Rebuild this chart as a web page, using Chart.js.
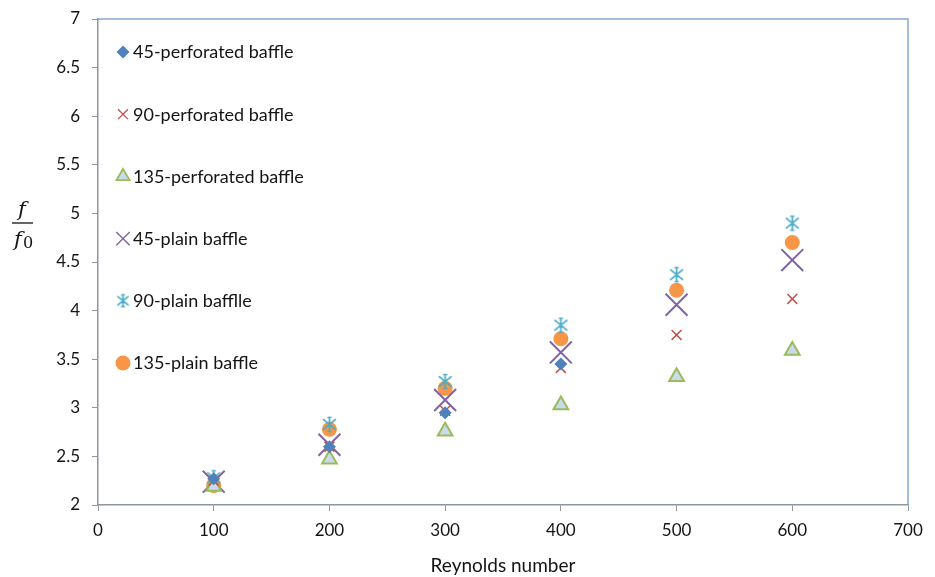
<!DOCTYPE html>
<html>
<head>
<meta charset="utf-8">
<script src="https://cdn.jsdelivr.net/npm/chart.js@4/dist/chart.umd.min.js"></script>
<style>
  html, body { margin: 0; padding: 0; background: #fff; }
  #wrap { width: 935px; height: 577px; }
</style>
</head>
<body>
<div id="wrap"><canvas id="c" width="935" height="577"></canvas></div>
<script>
// Reynolds numbers on the x axis
const reynolds = [100, 200, 300, 400, 500, 600];

// friction factor ratio f/f0 for each baffle type
const perf45  = [2.27, 2.60, 2.95, 3.45, null, null];
const perf90  = [2.25, 2.60, 2.97, 3.41, 3.75, 4.12];
const perf135 = [2.19, 2.47, 2.76, 3.03, 3.32, 3.59];
const plain45 = [2.24, 2.62, 3.08, 3.57, 4.06, 4.52];
const plain90 = [2.28, 2.83, 3.27, 3.85, 4.37, 4.90];
const plain135 = [2.20, 2.78, 3.20, 3.71, 4.21, 4.70];

const seriesNames = [
  '45-perforated baffle',
  '90-perforated baffle',
  '135-perforated baffle',
  '45-plain baffle',
  '90-plain bafflle',
  '135-plain baffle'
];

const xTicks = [0, 100, 200, 300, 400, 500, 600, 700];
const yTicks = [2, 2.5, 3, 3.5, 4, 4.5, 5, 5.5, 6, 6.5, 7];

const FONT = 'Lato, "Open Sans", sans-serif';
const TEXT = '#141414';

// asterisk marker: an X crossed by a vertical stroke
function asterisk(size, color) {
  const c = document.createElement('canvas');
  c.width = size; c.height = size;
  const g = c.getContext('2d');
  const m = size / 2, h = size / 2 - 1.5;
  g.strokeStyle = color; g.lineWidth = 1.7; g.lineCap = 'round';
  g.beginPath();
  g.moveTo(m - h * 0.85, m - h * 0.7); g.lineTo(m + h * 0.85, m + h * 0.7);
  g.moveTo(m + h * 0.85, m - h * 0.7); g.lineTo(m - h * 0.85, m + h * 0.7);
  g.moveTo(m, m - h); g.lineTo(m, m + h);
  g.moveTo(m - h * 0.2, m - h); g.lineTo(m + h * 0.2, m - h);
  g.moveTo(m - h * 0.2, m + h); g.lineTo(m + h * 0.2, m + h);
  g.stroke();
  return c;
}

const starPlot = asterisk(17, '#4BACC6');
const starLegend = asterisk(15, '#4BACC6');

function pts(arr) {
  return reynolds.map((x, i) => ({ x: x, y: arr[i] }));
}

const datasets = [
  { label: seriesNames[0], data: pts(perf45), pointStyle: 'rectRot', pointRadius: 6.5,
    backgroundColor: '#4F81BD', borderColor: '#4F81BD', pointBorderWidth: 0,
    legend: { style: 'rectRot', radius: 6.5, bw: 0 } },
  { label: seriesNames[1], data: pts(perf90), pointStyle: 'crossRot', pointRadius: 7,
    backgroundColor: '#C0504D', borderColor: '#C0504D', pointBorderWidth: 1.5,
    legend: { style: 'crossRot', radius: 7, bw: 1.3 } },
  { label: seriesNames[2], data: pts(perf135), pointStyle: 'triangle', pointRadius: 8.5,
    backgroundColor: '#C9DAF0', borderColor: '#9BBB59', pointBorderWidth: 2,
    legend: { style: 'triangle', radius: 7.5, bw: 1.8 } },
  { label: seriesNames[3], data: pts(plain45), pointStyle: 'crossRot', pointRadius: 15.5,
    backgroundColor: '#8064A2', borderColor: '#8064A2', pointBorderWidth: 2,
    legend: { style: 'crossRot', radius: 9.5, bw: 1.4 } },
  { label: seriesNames[4], data: pts(plain90), pointStyle: starPlot, pointRadius: 8,
    backgroundColor: '#4BACC6', borderColor: '#4BACC6', pointBorderWidth: 0,
    legend: { style: starLegend, radius: 7, bw: 0 } },
  { label: seriesNames[5], data: pts(plain135), pointStyle: 'circle', pointRadius: 7.5,
    backgroundColor: '#F79646', borderColor: '#F79646', pointBorderWidth: 0,
    legend: { style: 'circle', radius: 7.5, bw: 0 } }
];
datasets.forEach(d => { d.showLine = false; d.pointHoverRadius = d.pointRadius; });

// legend drawn inside the plot area, one entry per row
const legendPlugin = {
  id: 'legendPlugin',
  afterDatasetsDraw(chart) {
    const ctx = chart.ctx;
    const x0 = 123, y0 = 52, step = 62.2;
    ctx.save();
    chart.data.datasets.forEach((d, i) => {
      const y = y0 + i * step;
      ctx.fillStyle = d.backgroundColor;
      ctx.strokeStyle = d.borderColor;
      ctx.lineWidth = d.legend.bw;
      Chart.helpers.drawPoint(ctx, {
        pointStyle: d.legend.style, radius: d.legend.radius, rotation: 0,
        borderWidth: d.legend.bw
      }, x0, y);
      ctx.fillStyle = TEXT;
      ctx.font = '18px ' + FONT;
      ctx.textBaseline = 'middle';
      ctx.textAlign = 'left';
      ctx.fillText(d.label, 133, y + 0.5);
    });
    ctx.restore();
  }
};

// blue frame along the top and right edges, plus the f/f0 axis title
const framePlugin = {
  id: 'framePlugin',
  afterDraw(chart) {
    const a = chart.chartArea, ctx = chart.ctx;
    ctx.save();
    ctx.strokeStyle = '#86A9D8';
    ctx.lineWidth = 1.5;
    ctx.beginPath();
    ctx.moveTo(a.left, a.top);
    ctx.lineTo(a.right, a.top);
    ctx.lineTo(a.right, a.bottom);
    ctx.stroke();

    ctx.fillStyle = TEXT;
    ctx.textAlign = 'center';
    ctx.textBaseline = 'alphabetic';
    ctx.font = 'italic 21px "DejaVu Serif", serif';
    ctx.fillText('f', 22, 216);
    ctx.strokeStyle = TEXT;
    ctx.lineWidth = 1.3;
    ctx.beginPath();
    ctx.moveTo(12, 223); ctx.lineTo(33, 223); ctx.stroke();
    ctx.fillText('f', 18, 246);
    ctx.font = '16px "DejaVu Serif", serif';
    ctx.fillText('0', 28, 248);
    ctx.restore();
  }
};

new Chart(document.getElementById('c'), {
  type: 'scatter',
  data: { datasets },
  options: {
    responsive: false,
    animation: false,
    layout: { padding: { top: 19, right: 27, left: 0, bottom: 0 } },
    plugins: {
      legend: { display: false },
      tooltip: { enabled: false }
    },
    scales: {
      x: {
        type: 'linear', min: 0, max: 700,
        afterBuildTicks: s => { s.ticks = xTicks.map(v => ({ value: v })); },
        afterFit: s => { s.height = 72; s.paddingLeft = 0; s.paddingRight = 0; },
        grid: { drawOnChartArea: false, color: '#8E969E', tickLength: 6, lineWidth: 1 },
        border: { color: '#8E969E', width: 1.5 },
        ticks: { color: TEXT, font: { family: FONT, size: 17 }, padding: 9, maxRotation: 0,
                 callback: v => String(v) },
        title: { display: true, text: 'Reynolds number', color: TEXT,
                 font: { family: FONT, size: 19 }, padding: { top: 6, bottom: 0 } }
      },
      y: {
        type: 'linear', min: 2, max: 7,
        afterBuildTicks: s => { s.ticks = yTicks.map(v => ({ value: v })); },
        afterFit: s => { s.width = 98; s.paddingTop = 0; s.paddingBottom = 0; },
        grid: { drawOnChartArea: false, color: '#8E969E', tickLength: 6, lineWidth: 1 },
        border: { color: '#8E969E', width: 1.5 },
        ticks: { color: TEXT, font: { family: FONT, size: 17 }, padding: 12,
                 callback: v => String(v) }
      }
    }
  },
  plugins: [legendPlugin, framePlugin]
});
</script>
</body>
</html>
